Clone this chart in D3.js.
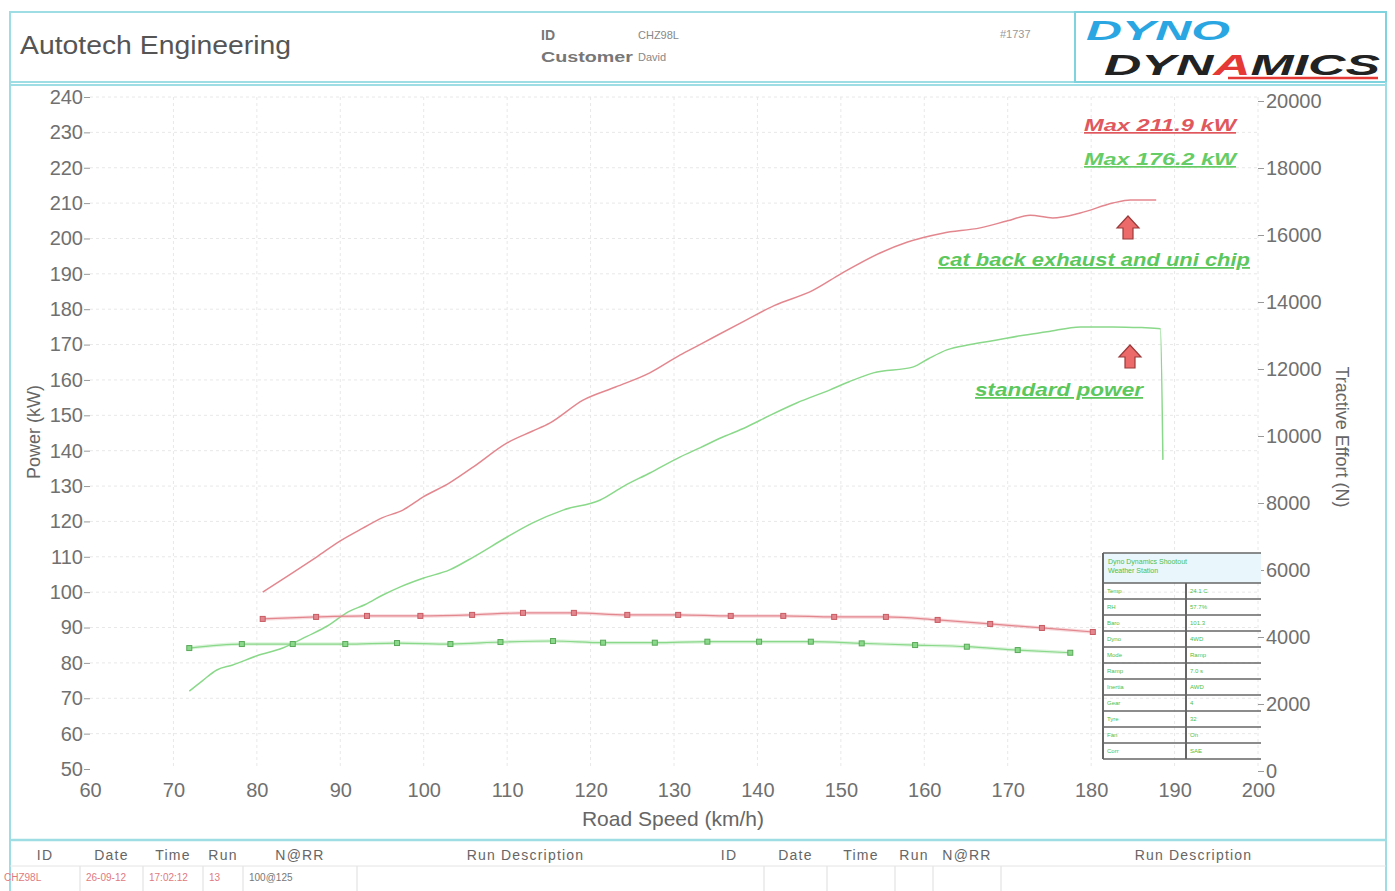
<!DOCTYPE html>
<html>
<head>
<meta charset="utf-8">
<script src="https://d3js.org/d3.v7.min.js"></script>
<style>
  body { margin: 0; background: #fff; }
  text { font-family: "Liberation Sans", Arial, sans-serif; }
</style>
</head>
<body>
<script>
// power curves (km/h, kW)
const modSpeed = [80.7, 84, 87.2, 90, 92.7, 95, 97.5, 100, 103.1, 106, 110, 113, 115.1, 119.1, 123, 127.1, 130.7, 133.1, 138.7, 142, 146.7, 150, 154.7, 158, 162.2, 166.7, 170, 172.7, 175.4, 178.7, 182.6, 184.7, 187.8];
const modPower = [100, 105, 110, 114.5, 118.1, 121, 123.2, 127, 130.9, 135.5, 142.2, 145.5, 147.8, 154.3, 158, 162, 167, 170, 177, 181, 185.4, 190, 195.9, 199, 201.5, 203, 205, 206.6, 205.8, 207.2, 210, 210.9, 210.9];

const stdSpeed = [71.9, 73.5, 75.2, 77.1, 80, 83.1, 86, 88.5, 91, 93, 95.1, 97.2, 100, 103.1, 106, 110, 113, 116.7, 121.1, 124, 127.1, 130.7, 133.1, 135.5, 138.7, 141.5, 144.7, 148.7, 151, 153.9, 158.7, 160.5, 162.7, 165.5, 168.7, 171.5, 174.7, 178.7, 182.6, 186, 188.3, 188.6];
const stdPower = [72, 75, 78, 79.4, 82, 84.2, 87.5, 90.5, 94.5, 96.5, 99.2, 101.5, 104, 106.3, 110, 115.6, 119.5, 123.2, 126, 130, 133.7, 138.2, 140.8, 143.5, 146.7, 150, 153.5, 157.2, 159.5, 162, 163.7, 166, 168.5, 170, 171.3, 172.5, 173.6, 175, 175, 174.8, 174.5, 137.4];

// tractive effort curves (km/h, N), one point per marker
const modTeSpeed = [80.7, 87.1, 93.2, 99.6, 105.8, 111.9, 118.0, 124.4, 130.5, 136.8, 143.1, 149.2, 155.4, 161.6, 167.9, 174.1, 180.2];
const modTe = [4540, 4600, 4630, 4630, 4660, 4720, 4720, 4660, 4660, 4630, 4630, 4600, 4600, 4510, 4390, 4270, 4150];

const stdTeSpeed = [71.9, 78.2, 84.3, 90.6, 96.8, 103.2, 109.2, 115.5, 121.5, 127.7, 134.0, 140.2, 146.4, 152.5, 158.9, 165.1, 171.2, 177.5];
const stdTe = [3670, 3790, 3790, 3790, 3820, 3790, 3850, 3880, 3830, 3830, 3860, 3860, 3860, 3810, 3760, 3710, 3610, 3530];

const xTicks = d3.range(60, 201, 10);
const powerTicks = d3.range(50, 241, 10);
const teTicks = d3.range(0, 20001, 2000);

const footHead = ["ID", "Date", "Time", "Run", "N@RR", "Run Description"];
const footRow = ["CHZ98L", "26-09-12", "17:02:12", "13", "100@125", ""];

const infoLeft = ["Dyno Dynamics", "Temp", "RH", "Baro", "Dyno", "Mode", "Ramp", "Inertia", "Gear", "Tyre", "Fan", "Corr"];
const infoRight = ["Weather Station", "24.1 C", "57.7%", "101.3", "4WD", "Ramp", "7.0 s", "AWD", "4", "32", "On", "SAE"];

const W = 1395, H = 891;
const cyan = "#9edde4";
const red = "#e3878f", green = "#8ad88a";

const svg = d3.select("body").append("svg").attr("width", W).attr("height", H);

const x = d3.scaleLinear().domain([60, 200]).range([90, 1258]);
const yP = d3.scaleLinear().domain([50, 240]).range([769, 97]);
const yT = d3.scaleLinear().domain([0, 20000]).range([771, 101]);

// frames
svg.append("rect").attr("x", 10).attr("y", 12).attr("width", 1376).attr("height", 70)
  .attr("fill", "none").attr("stroke", cyan).attr("stroke-width", 2);
svg.append("rect").attr("x", 1075).attr("y", 12).attr("width", 311).attr("height", 70)
  .attr("fill", "none").attr("stroke", "#7fd3de").attr("stroke-width", 2);
svg.append("line").attr("x1", 10).attr("x2", 1386).attr("y1", 85).attr("y2", 85)
  .attr("stroke", cyan).attr("stroke-width", 2);
svg.append("line").attr("x1", 10).attr("x2", 10).attr("y1", 82).attr("y2", 891)
  .attr("stroke", cyan).attr("stroke-width", 2);
svg.append("line").attr("x1", 1386).attr("x2", 1386).attr("y1", 82).attr("y2", 891)
  .attr("stroke", cyan).attr("stroke-width", 2);
svg.append("line").attr("x1", 10).attr("x2", 1386).attr("y1", 840).attr("y2", 840)
  .attr("stroke", cyan).attr("stroke-width", 2.5);

// header
svg.append("text").attr("x", 20).attr("y", 54).attr("font-size", 26).attr("fill", "#555")
  .attr("textLength", 271).attr("lengthAdjust", "spacingAndGlyphs").text("Autotech Engineering");
svg.append("text").attr("x", 541).attr("y", 40).attr("font-size", 14).attr("font-weight", "bold").attr("fill", "#777").text("ID");
svg.append("text").attr("x", 638).attr("y", 39).attr("font-size", 11).attr("fill", "#888").text("CHZ98L");
svg.append("text").attr("x", 541).attr("y", 62).attr("font-size", 14).attr("font-weight", "bold").attr("fill", "#777")
  .attr("textLength", 92).attr("lengthAdjust", "spacingAndGlyphs").text("Customer");
svg.append("text").attr("x", 638).attr("y", 61).attr("font-size", 11).attr("fill", "#888").text("David");
svg.append("text").attr("x", 1000).attr("y", 38).attr("font-size", 11).attr("fill", "#999").text("#1737");

// logo
svg.append("text").attr("x", 1086).attr("y", 40).attr("font-size", 27).attr("font-weight", 900)
  .attr("font-style", "italic").attr("fill", "#2aa6e2")
  .attr("textLength", 144).attr("lengthAdjust", "spacingAndGlyphs").text("DYNO");
const logo2 = svg.append("text").attr("x", 1104).attr("y", 75).attr("font-size", 30).attr("font-weight", 900)
  .attr("font-style", "italic").attr("fill", "#222")
  .attr("textLength", 276).attr("lengthAdjust", "spacingAndGlyphs");
logo2.append("tspan").text("DYN");
logo2.append("tspan").attr("fill", "#e53935").text("A");
logo2.append("tspan").text("MICS");
svg.append("line").attr("x1", 1228).attr("x2", 1378).attr("y1", 78).attr("y2", 78)
  .attr("stroke", "#e53935").attr("stroke-width", 2.5);

// grid
const grid = svg.append("g").attr("stroke", "#e8e8e8").attr("stroke-dasharray", "3,3");
grid.selectAll("line.v").data(xTicks.slice(1)).join("line")
  .attr("x1", d => x(d)).attr("x2", d => x(d)).attr("y1", yP(240)).attr("y2", yP(50));
grid.selectAll("line.h").data(powerTicks.slice(1)).join("line")
  .attr("x1", x(60)).attr("x2", x(200)).attr("y1", d => yP(d)).attr("y2", d => yP(d));

// axes
function styleAxis(g) {
  g.select(".domain").remove();
  g.selectAll(".tick line").attr("stroke", "#999");
  g.selectAll(".tick text").attr("fill", "#707070").attr("font-size", 20)
    .attr("font-family", "Liberation Sans, Arial, sans-serif");
}
svg.append("g").attr("transform", "translate(" + x(60) + ",0)")
  .call(d3.axisLeft(yP).tickValues(powerTicks).tickSize(6).tickPadding(1))
  .call(styleAxis);
svg.append("g").attr("transform", "translate(" + x(200) + ",0)")
  .call(d3.axisRight(yT).tickValues(teTicks).tickFormat(d3.format("d")).tickSize(6).tickPadding(2))
  .call(styleAxis);
svg.append("g").attr("transform", "translate(0," + (yP(50) + 14) + ")")
  .call(d3.axisBottom(x).tickValues(xTicks).tickSize(0).tickPadding(0))
  .call(styleAxis);

svg.append("text").attr("transform", "translate(40,432) rotate(-90)").attr("text-anchor", "middle")
  .attr("font-size", 18).attr("fill", "#666").text("Power (kW)");
svg.append("text").attr("transform", "translate(1336,437) rotate(90)").attr("text-anchor", "middle")
  .attr("font-size", 18).attr("fill", "#666").text("Tractive Effort (N)");
svg.append("text").attr("x", 673).attr("y", 826).attr("text-anchor", "middle")
  .attr("font-size", 21).attr("fill", "#666").text("Road Speed (km/h)");

// curves
const lineP = d3.line().x(d => x(d[0])).y(d => yP(d[1])).curve(d3.curveMonotoneX);
const lineT = d3.line().x(d => x(d[0])).y(d => yT(d[1])).curve(d3.curveMonotoneX);

svg.append("path").datum(d3.zip(modSpeed, modPower)).attr("d", lineP)
  .attr("fill", "none").attr("stroke", red).attr("stroke-width", 1.5);
svg.append("path").datum(d3.zip(stdSpeed, stdPower)).attr("d", lineP)
  .attr("fill", "none").attr("stroke", green).attr("stroke-width", 1.5);

[[modTeSpeed, modTe, red, "#c85a62"], [stdTeSpeed, stdTe, green, "#5aa85a"]].forEach(([sp, te, c, mc]) => {
  const pts = d3.zip(sp, te);
  svg.append("path").datum(pts).attr("d", lineT)
    .attr("fill", "none").attr("stroke", c).attr("stroke-width", 3.5).attr("stroke-opacity", 0.3);
  svg.append("path").datum(pts).attr("d", lineT)
    .attr("fill", "none").attr("stroke", c).attr("stroke-width", 1.2);
  svg.selectAll(null).data(pts).join("rect")
    .attr("x", d => x(d[0]) - 2.5).attr("y", d => yT(d[1]) - 2.5)
    .attr("width", 5).attr("height", 5)
    .attr("fill", c).attr("stroke", mc).attr("stroke-width", 1);
});

// annotations
function note(txt, cx, by, col, size, len) {
  svg.append("text").attr("x", cx).attr("y", by).attr("text-anchor", "middle")
    .attr("font-size", size).attr("font-weight", "bold").attr("font-style", "italic")
    .attr("fill", col).attr("text-decoration", "underline")
    .attr("textLength", len).attr("lengthAdjust", "spacingAndGlyphs").text(txt);
}
note("Max 211.9 kW", 1160, 131, "#e0575e", 17, 152);
note("Max 176.2 kW", 1160, 165, "#66cc66", 17, 152);
note("cat back exhaust and uni chip", 1094, 266, "#5cc75c", 18, 312);
note("standard power", 1059, 396, "#5cc75c", 18, 168);

function arrow(cx, cy) {
  const p = [[0, -12], [11, 0], [5, 0], [5, 11], [-5, 11], [-5, 0], [-11, 0]];
  svg.append("path").attr("d", "M" + p.map(q => (cx + q[0]) + "," + (cy + q[1])).join("L") + "Z")
    .attr("fill", "#ec6a6a").attr("stroke", "#9a3a3a").attr("stroke-width", 1.2);
}
arrow(1128, 228);
arrow(1130, 357);

// info table
const tb = svg.append("g");
const tx0 = 1103, tx1 = 1261, tmid = 1186, ty0 = 553, thead = 30, rowH = 16;
tb.append("rect").attr("x", tx0).attr("y", ty0).attr("width", tx1 - tx0).attr("height", thead)
  .attr("fill", "#e9f6fb");
tb.append("text").attr("x", tx0 + 5).attr("y", ty0 + 11).attr("font-size", 7).attr("fill", "#4cbf4c").text(infoLeft[0] + " Shootout");
tb.append("text").attr("x", tx0 + 5).attr("y", ty0 + 20).attr("font-size", 7).attr("fill", "#4cbf4c").text(infoRight[0]);
const rows = d3.range(1, infoLeft.length);
const rowY = i => ty0 + thead + (i - 1) * rowH;
tb.selectAll("line.r").data(d3.range(0, infoLeft.length + 1)).join("line")
  .attr("x1", tx0).attr("x2", tx1)
  .attr("y1", i => i === 0 ? ty0 : rowY(i)).attr("y2", i => i === 0 ? ty0 : rowY(i))
  .attr("stroke", "#666").attr("stroke-width", 1.6);
tb.append("line").attr("x1", tx0).attr("x2", tx0).attr("y1", ty0).attr("y2", rowY(infoLeft.length))
  .attr("stroke", "#666").attr("stroke-width", 2);
tb.append("line").attr("x1", tmid).attr("x2", tmid).attr("y1", ty0 + thead).attr("y2", rowY(infoLeft.length))
  .attr("stroke", "#666").attr("stroke-width", 2);
tb.selectAll("text.l").data(rows).join("text")
  .attr("x", tx0 + 4).attr("y", i => rowY(i) + 10).attr("font-size", 6).attr("fill", "#4cbf4c")
  .text(i => infoLeft[i]);
tb.selectAll("text.rr").data(rows).join("text")
  .attr("x", tmid + 4).attr("y", i => rowY(i) + 10).attr("font-size", 6).attr("fill", "#4cbf4c")
  .text(i => infoRight[i]);

// footer table
const colL = [10, 80, 143, 203, 243, 357, 694];
const colR = [694, 764, 827, 895, 933, 1001, 1386];
[colL, colR].forEach((cols, k) => {
  const f = svg.append("g");
  f.selectAll("text.h").data(footHead).join("text")
    .attr("x", (d, i) => (cols[i] + cols[i + 1]) / 2).attr("y", 860)
    .attr("text-anchor", "middle").attr("font-size", 14).attr("letter-spacing", 1.2)
    .attr("fill", "#666").text(d => d);
  f.selectAll("line.c").data(cols.slice(1, -1)).join("line")
    .attr("x1", d => d).attr("x2", d => d).attr("y1", 866).attr("y2", 891)
    .attr("stroke", "#ddd");
  f.append("line").attr("x1", cols[0]).attr("x2", cols[cols.length - 1]).attr("y1", 866).attr("y2", 866)
    .attr("stroke", "#e4e4e4");
  if (k === 0) {
    f.selectAll("text.d").data(footRow).join("text")
      .attr("x", (d, i) => i === 0 ? 4 : cols[i] + 6).attr("y", 881)
      .attr("font-size", 10).attr("fill", (d, i) => i < 4 ? "#e07a80" : "#777").text(d => d);
  }
});
</script>
</body>
</html>
